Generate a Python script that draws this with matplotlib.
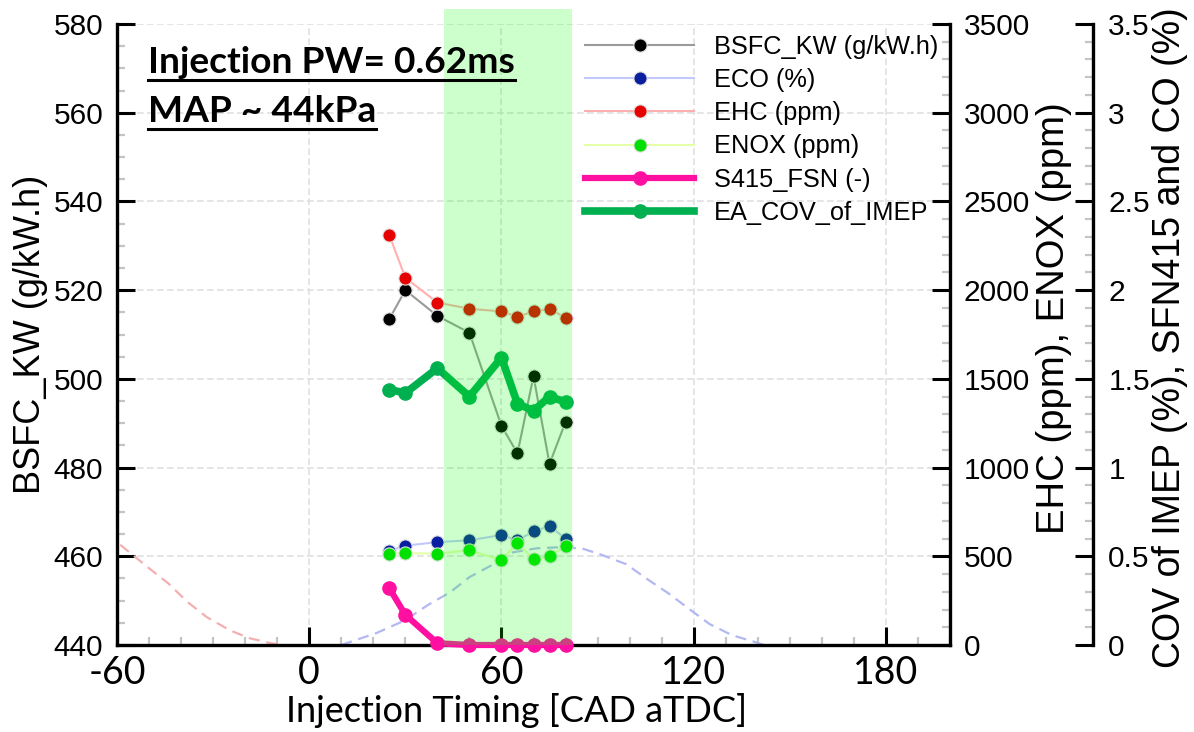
import numpy as np
import matplotlib
matplotlib.use('Agg')
import matplotlib.pyplot as plt
from matplotlib.ticker import MultipleLocator, FuncFormatter
from matplotlib.lines import Line2D

# Injection timing sweep [CAD aTDC]
timing = [25, 30, 40, 50, 60, 65, 70, 75, 80]
# Left axis
bsfc = [513.5, 520.0, 514.2, 510.4, 489.4, 483.2, 500.6, 480.8, 490.3]
# Right axis (ppm)
ehc = [2310, 2070, 1930, 1895, 1880, 1850, 1880, 1895, 1845]
enox = [515, 518, 515, 534, 478, 575, 483, 500, 556]
# Third axis (%)
eco = [0.53, 0.56, 0.58, 0.59, 0.62, 0.59, 0.64, 0.67, 0.60]
fsn = [0.32, 0.17, 0.01, 0.0, 0.0, 0.0, 0.0, 0.0, 0.0]
cov = [1.44, 1.42, 1.56, 1.40, 1.62, 1.36, 1.32, 1.40, 1.37]

# faint dashed background curves (left axis units)
red_dash_x = [-59, -50, -44, -38, -32, -25, -19, -12, -8]
red_dash_y = [462.6, 457.3, 453.9, 449.7, 446.3, 443.4, 441.6, 440.4, 440.0]
blue_dash_x = [10, 21, 30, 37, 44, 50, 57, 62, 71, 77, 85, 91, 99, 105, 112, 119, 125, 132, 139, 142]
blue_dash_y = [440.0, 442.7, 445.6, 449.0, 451.9, 455.3, 458.0, 460.7, 461.8, 462.0,
               461.8, 460.4, 458.2, 455.1, 451.7, 447.9, 444.7, 442.2, 440.7, 440.0]

# highlighted timing window
band = (42, 82)

arial = 'Liberation Sans'
calib = 'Lato'

W, H = 1194, 732
fig = plt.figure(figsize=(W / 100, H / 100), dpi=100)
ax = fig.add_axes([117 / W, 1 - 645 / H, (950 - 117) / W, (645 - 24) / H])
ax2 = ax.twinx()
ax3 = ax.twinx()
ax3.spines['right'].set_position(('axes', (1093 - 117) / (950 - 117)))

for a in (ax, ax2, ax3):
    for s in a.spines.values():
        s.set_visible(False)
        s.set_linewidth(2.4)
ax.spines['left'].set_visible(True)
ax.spines['bottom'].set_visible(True)
ax2.spines['right'].set_visible(True)
ax3.spines['right'].set_visible(True)

ax.set_xlim(-60, 200)
ax.set_ylim(440, 580)
ax2.set_ylim(0, 3500)
ax3.set_ylim(0, 3.5)

ax.set_xticks([-60, 0, 60, 120, 180])
ax.xaxis.set_major_formatter(FuncFormatter(lambda v, p: f'{v:g}'.replace('\u2212', '-')))
ax.xaxis.set_minor_locator(MultipleLocator(10))
ax.set_yticks(np.arange(440, 581, 20))
ax.yaxis.set_minor_locator(MultipleLocator(5))
ax2.set_yticks(np.arange(0, 3501, 500))
ax2.yaxis.set_minor_locator(MultipleLocator(100))
ax3.set_yticks(np.arange(0, 3.51, 0.5))
ax3.yaxis.set_minor_locator(MultipleLocator(0.1))
ax3.yaxis.set_major_formatter(FuncFormatter(lambda v, p: f'{v:g}'))

for a in (ax, ax2, ax3):
    a.tick_params(which='major', direction='in', length=13, width=2.2, color='black')
    a.tick_params(which='minor', direction='in', length=6, width=1.6, color='#c4c4c4')
ax.tick_params(axis='x', which='major', pad=7)
ax.tick_params(axis='y', which='major', pad=10)
ax2.tick_params(axis='y', which='major', pad=10)
ax3.tick_params(axis='y', which='major', pad=11)

for t in ax.get_xticklabels():
    t.set_fontfamily(calib)
    t.set_fontsize(27)
for a in (ax, ax2, ax3):
    for t in a.get_yticklabels():
        t.set_fontfamily(arial)
        t.set_fontsize(21.5)

ax.grid(True, which='major', color='#e0e0e0', linestyle=(0, (4, 2)), linewidth=1.2)
ax.set_axisbelow(True)

# labels
ax.set_xlabel('Injection Timing [CAD aTDC]', fontfamily=calib, fontsize=26)
ax.xaxis.set_label_coords((517 - 117) / 833, (645 - 711) / 621)
ax.xaxis.label.set_va('center')
ax.set_ylabel('BSFC_KW (g/kW.h)', fontfamily=arial, fontsize=26,
              rotation_mode='default', va='center', ha='center')
ax.yaxis.set_label_coords((31 - 117) / 833, (645 - 334) / 621)
ax2.set_ylabel('EHC (ppm), ENOX (ppm)', fontfamily=arial, fontsize=27.5,
               rotation=90, rotation_mode='default', va='center', ha='center')
ax2.yaxis.set_label_coords((1054 - 117) / 833, (645 - 318) / 621)
ax3.set_ylabel('COV of IMEP (%), SFN415 and CO (%)', fontfamily=arial, fontsize=27,
               rotation=90, rotation_mode='default', va='center', ha='center')
ax3.yaxis.set_label_coords((1170 - 117) / 833, (645 - 338) / 621)

# background dashed curves
ax.plot(red_dash_x, red_dash_y, color='#f4b0b0', lw=1.6, ls=(0, (5, 3)), zorder=2)
ax.plot(blue_dash_x, blue_dash_y, color='#b4b8f2', lw=1.6, ls=(0, (5, 3)), zorder=2)

ms = 9.5
h_bsfc, = ax.plot(timing, bsfc, color='#9a9a9a', lw=1.5, marker='o', ms=ms,
                  mfc='black', mec='#e0e0e0', mew=0.8, label='BSFC_KW (g/kW.h)', zorder=4)
h_ehc, = ax2.plot(timing, ehc, color='#ffb0b0', lw=1.5, marker='o', ms=ms,
                  mfc='#e60000', mec='#e0e0e0', mew=0.8, label='EHC (ppm)', zorder=4)
h_eco, = ax3.plot(timing, eco, color='#c3c8ff', lw=1.5, marker='o', ms=ms,
                  mfc='#0a1fa0', mec='#e0e0e0', mew=0.8, label='ECO (%)', zorder=4)
# ENOX belongs to the ppm axis but is drawn above ECO
h_enox, = ax3.plot(timing, enox, transform=ax2.transData, color='#e4ffa8', lw=1.5,
                   marker='o', ms=ms, mfc='#00e000', mec='#e0e0e0', mew=0.8,
                   label='ENOX (ppm)', zorder=5)
h_fsn, = ax3.plot(timing, fsn, color='#ff10a0', lw=4.5, marker='o', ms=ms,
                  mfc='#ff10a0', mec='#ff10a0', label='S415_FSN (-)', zorder=6, clip_on=False)
h_cov, = ax3.plot(timing, cov, color='#00b050', lw=5.5, marker='o', ms=ms,
                  mfc='#00b050', mec='#00b050', label='EA_COV_of_IMEP', zorder=6)

# translucent window drawn over everything
ax3.axvspan(band[0], band[1], ymin=0, ymax=(645 - 9) / 621, color='#00ff00',
            alpha=0.2, lw=0, zorder=20, clip_on=False)

leg = ax3.legend(handles=[h_bsfc, h_eco, h_ehc, h_enox, h_fsn, h_cov],
                 loc='upper left', bbox_to_anchor=(585 / W, 1 - 35 / H),
                 bbox_transform=fig.transFigure, frameon=False, numpoints=1,
                 prop={'family': arial, 'size': 18.3}, handlelength=4.3,
                 handletextpad=0.78, labelspacing=0.36, borderpad=0, borderaxespad=0)
leg.set_zorder(30)

t1 = fig.text(148 / W, 1 - 73 / H, 'Injection PW= 0.62ms', fontfamily=calib,
              fontweight='bold', fontsize=26.7, va='baseline', ha='left')
t2 = fig.text(148 / W, 1 - 122 / H, 'MAP ~ 44kPa', fontfamily=calib,
              fontweight='bold', fontsize=26.7, va='baseline', ha='left')

fig.canvas.draw()
r = fig.canvas.get_renderer()
for t in (t1, t2):
    bb = t.get_window_extent(r)
    fig.add_artist(Line2D([bb.x0, bb.x1], [bb.y0 - 1, bb.y0 - 1], transform=None,
                          color='black', lw=2.2))

fig.savefig('out.png', dpi=100)
